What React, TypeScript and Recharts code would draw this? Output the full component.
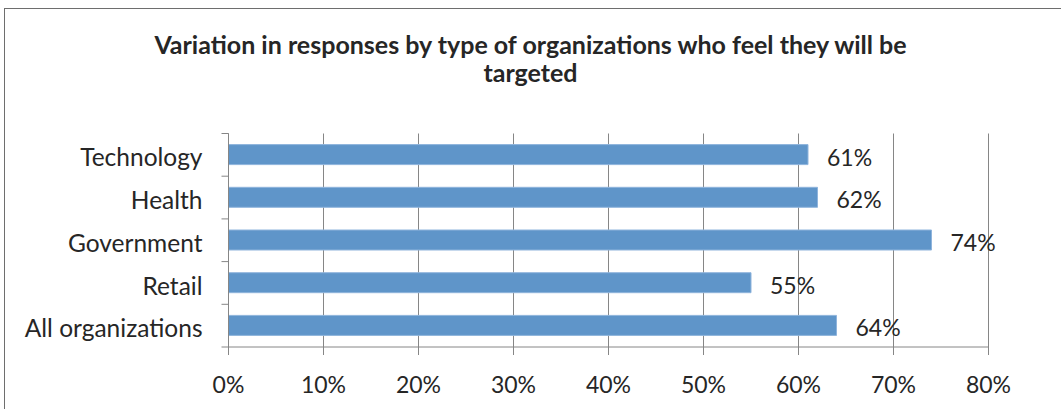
import React from 'react';
import { BarChart, Bar, XAxis, YAxis, CartesianGrid, LabelList } from 'recharts';

// categories top to bottom, values in percent
const categories = ['Technology', 'Health', 'Government', 'Retail', 'All organizations'];
const targeted = [61, 62, 74, 55, 64];
const xTicks = [0, 10, 20, 30, 40, 50, 60, 70, 80];

const data = categories.map((name, i) => ({ name, value: targeted[i] }));

const FONT = 'Lato, "Open Sans", sans-serif';
const TEXT = '#262626';
const AXIS = '#868686';

const W = 1061;
const H = 409;
const TOP = 133.5;
const BOTTOM = 62;
const LEFT = 228.5;
const RIGHT = 72.5;
const BAND = (H - TOP - BOTTOM) / categories.length;

// Excel style: category ticks sit on the band edges, not the centres
function CategoryTick(props: any) {
  const { x, y, payload, index } = props;
  const last = index === categories.length - 1;
  return (
    <g>
      <line x1={x - 7} x2={x} y1={y - BAND / 2} y2={y - BAND / 2} stroke={AXIS} />
      {last && <line x1={x - 7} x2={x} y1={y + BAND / 2} y2={y + BAND / 2} stroke={AXIS} />}
      <text x={x - 26} y={y + 3} dy="0.35em" textAnchor="end" fontSize={24.5} fill={TEXT} fontFamily={FONT}>
        {payload.value}
      </text>
    </g>
  );
}

// value label a little right of the bar end
function ValueLabel(props: any) {
  const { x, y, width, height, value } = props;
  return (
    <text x={x + width + 19} y={y + height / 2 + 3} dy="0.35em" fontSize={23} fill={TEXT} fontFamily={FONT}>
      {`${value}%`}
    </text>
  );
}

export default function App() {
  return (
    <div style={{ position: 'fixed', left: 0, top: 0, width: W, height: H, overflow: 'hidden', background: '#fff' }}>
      <div
        style={{
          position: 'absolute',
          left: 4,
          top: 8,
          width: W + 20,
          height: H + 20,
          borderLeft: '1.5px solid #6e6e6e',
          borderTop: '1.5px solid #6e6e6e',
        }}
      />
      <div
        style={{
          position: 'absolute',
          left: 0,
          top: 30,
          width: W,
          textAlign: 'center',
          fontFamily: FONT,
          fontWeight: 'bold',
          fontSize: 25,
          lineHeight: '28px',
          color: TEXT,
        }}
      >
        Variation in responses by type of organizations who feel they will be
        <br />
        targeted
      </div>
      <div style={{ position: 'absolute', left: 0, top: 0 }}>
        <BarChart
          width={W}
          height={H}
          data={data}
          layout="vertical"
          barCategoryGap="26%"
          margin={{ top: TOP, right: RIGHT, bottom: 0, left: 0 }}
        >
          <CartesianGrid horizontal={false} stroke={AXIS} strokeWidth={1} />
          <XAxis
            type="number"
            domain={[0, 80]}
            ticks={xTicks}
            tickFormatter={(v) => `${v}%`}
            height={BOTTOM}
            stroke={AXIS}
            tickSize={8}
            tickMargin={22}
            tick={{ fontSize: 23, fill: TEXT, fontFamily: FONT }}
            interval={0}
          />
          <YAxis
            type="category"
            dataKey="name"
            width={LEFT}
            stroke={AXIS}
            tickLine={false}
            tickSize={0}
            tickMargin={0}
            tick={<CategoryTick />}
            interval={0}
          />
          <Bar dataKey="value" fill="#5f95c9" stroke="#8fb4dc" strokeWidth={1} isAnimationActive={false}>
            <LabelList dataKey="value" content={<ValueLabel />} />
          </Bar>
        </BarChart>
      </div>
    </div>
  );
}
